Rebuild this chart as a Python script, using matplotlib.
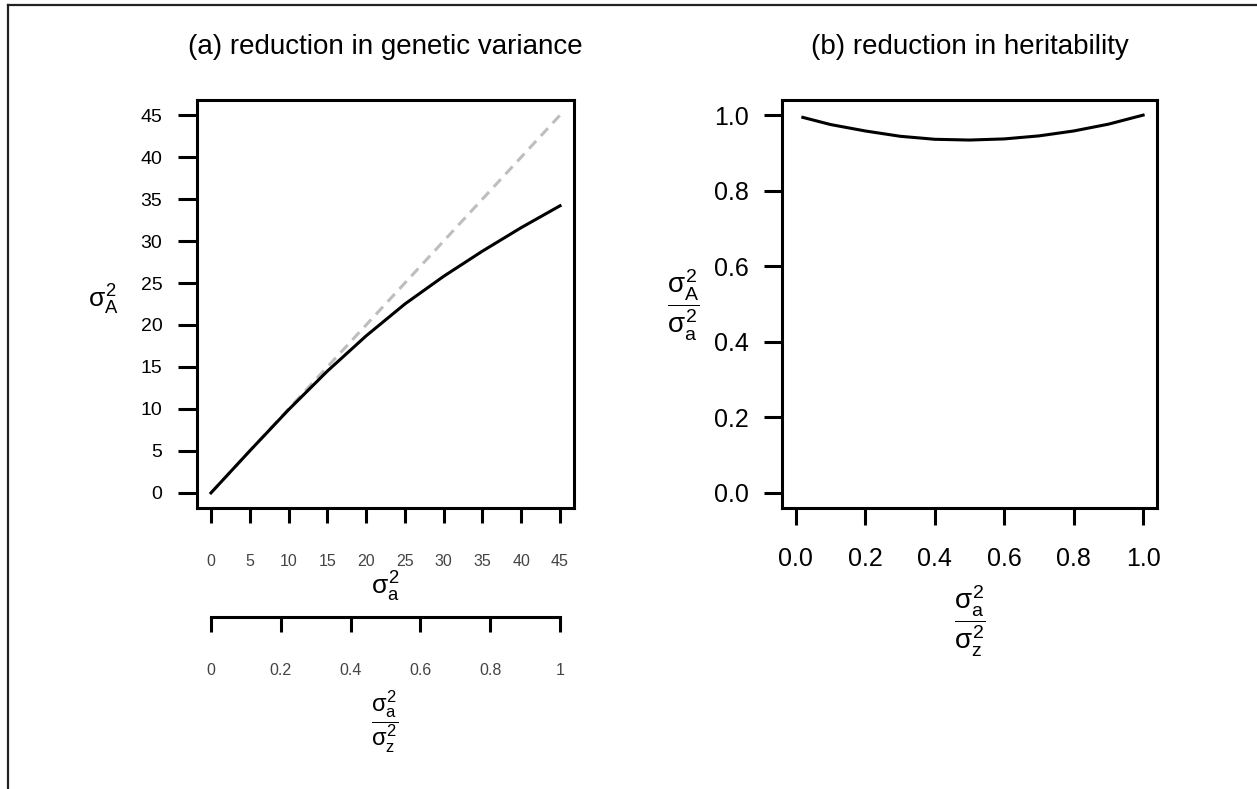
import matplotlib
matplotlib.use("Agg")
import matplotlib.pyplot as plt
from matplotlib.lines import Line2D

plt.rcParams["font.family"] = ["Liberation Sans", "DejaVu Sans"]
plt.rcParams["mathtext.fontset"] = "custom"
plt.rcParams["mathtext.rm"] = "Liberation Sans"
plt.rcParams["mathtext.it"] = "Liberation Sans"
plt.rcParams["mathtext.bf"] = "Liberation Sans:bold"
plt.rcParams["lines.scale_dashes"] = False

W, H = 1257, 789

# panel (a): sigma_a^2 against realised sigma_A^2
var_a = [0, 5, 10, 15, 20, 25, 30, 35, 40, 45]
var_A = [0, 5.0, 9.9, 14.5, 18.7, 22.5, 25.8, 28.8, 31.6, 34.2]
ref_line = [0, 45]
x_ticks_a = [0, 5, 10, 15, 20, 25, 30, 35, 40, 45]
y_ticks_a = [0, 5, 10, 15, 20, 25, 30, 35, 40, 45]
ratio_ticks = [0, 0.2, 0.4, 0.6, 0.8, 1.0]
ratio_labels = ["0", "0.2", "0.4", "0.6", "0.8", "1"]
var_a_max = 45

# panel (b): heritability ratio
ratio_x = [0.02, 0.1, 0.2, 0.3, 0.4, 0.5, 0.6, 0.7, 0.8, 0.9, 1.0]
ratio_y = [0.994, 0.975, 0.958, 0.944, 0.936, 0.934, 0.937, 0.945, 0.958, 0.976, 1.0]
ticks_b = [0.0, 0.2, 0.4, 0.6, 0.8, 1.0]

LW = 2.2
FRAC_Z = r"$\dfrac{\sigma_a^2}{\sigma_z^2}$"


def px(x0, y0, x1, y1):
    # pixel box -> figure fraction rect
    return [x0 / W, 1 - y1 / H, (x1 - x0) / W, (y1 - y0) / H]


def fig_text(fig, x, y, s, size, **kw):
    fig.text(x / W, 1 - y / H, s, fontsize=size, ha="center", va="center", **kw)


fig = plt.figure(figsize=(W / 100, H / 100), dpi=100)

# ---- panel (a)
ax1 = fig.add_axes(px(197, 100, 574, 508))
ax1.plot(ref_line, ref_line, color="#bebebe", lw=LW, dashes=(7.5, 5), dash_capstyle="butt")
ax1.plot(var_a, var_A, color="black", lw=LW)
ax1.set_xlim(-1.8, 46.8)
ax1.set_ylim(-1.8, 46.8)
ax1.set_xticks(x_ticks_a)
ax1.set_yticks(y_ticks_a)
ax1.tick_params(axis="y", length=14, width=LW, pad=11, labelsize=14)
ax1.tick_params(axis="x", length=11, width=LW, pad=22, labelsize=11.5, labelcolor="#444444")
for sp in ax1.spines.values():
    sp.set_linewidth(LW)

# extra scale for sigma_a^2 / sigma_z^2
ax_s = fig.add_axes(px(197, 607, 574, 617))
ax_s.set_xlim(-1.8 / var_a_max, 46.8 / var_a_max)
ax_s.patch.set_visible(False)
for side in ["top", "left", "right"]:
    ax_s.spines[side].set_visible(False)
ax_s.spines["bottom"].set_linewidth(LW)
ax_s.spines["bottom"].set_bounds(0, 1)
ax_s.set_yticks([])
ax_s.set_xticks(ratio_ticks)
ax_s.set_xticklabels(ratio_labels)
ax_s.tick_params(axis="x", length=11, width=LW, pad=22, labelsize=11.5, labelcolor="#444444")

fig_text(fig, 385, 47, "(a) reduction in genetic variance", 20)
fig_text(fig, 103, 300, r"$\sigma_A^2$", 19)
fig_text(fig, 385, 587, r"$\sigma_a^2$", 19)
fig_text(fig, 385, 722, FRAC_Z, 17)

# ---- panel (b)
ax2 = fig.add_axes(px(782, 100, 1157, 508))
ax2.plot(ratio_x, ratio_y, color="black", lw=LW)
ax2.set_xlim(-0.04, 1.04)
ax2.set_ylim(-0.04, 1.04)
ax2.set_xticks(ticks_b)
ax2.set_yticks(ticks_b)
ax2.set_xticklabels([f"{t:.1f}" for t in ticks_b])
ax2.set_yticklabels([f"{t:.1f}" for t in ticks_b])
ax2.tick_params(axis="y", length=13, width=LW, pad=11, labelsize=18)
ax2.tick_params(axis="x", length=12, width=LW, pad=16, labelsize=18)
for sp in ax2.spines.values():
    sp.set_linewidth(LW)

fig_text(fig, 970, 47, "(b) reduction in heritability", 20)
fig_text(fig, 683, 305, r"$\dfrac{\sigma_A^2}{\sigma_a^2}$", 20)
fig_text(fig, 970, 621, FRAC_Z, 20)

# outer frame (top and left edges only are visible)
fig.add_artist(Line2D([8 / W, 1], [1 - 5 / H, 1 - 5 / H], transform=fig.transFigure,
                      color="#222222", lw=1.6))
fig.add_artist(Line2D([8 / W, 8 / W], [0, 1 - 5 / H], transform=fig.transFigure,
                      color="#222222", lw=1.6))

fig.savefig("out.png", dpi=100)
